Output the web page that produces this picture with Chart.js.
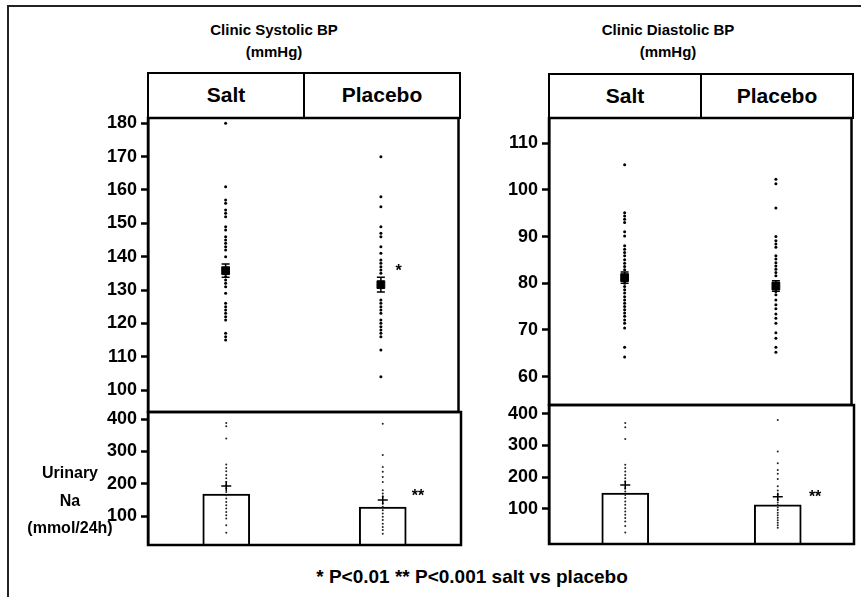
<!DOCTYPE html>
<html>
<head>
<meta charset="utf-8">
<title>Clinic BP and urinary sodium, salt vs placebo</title>
<script src="https://cdn.jsdelivr.net/npm/chart.js@4.4.1/dist/chart.umd.min.js"></script>
<style>
  body { margin: 0; background: #fff; font-family: Arial, 'Liberation Sans', sans-serif; font-weight: bold; color: #000; }
  #page { position: relative; width: 862px; height: 597px; overflow: hidden; }
  .abs { position: absolute; }
  .frame { left: 7px; top: 5px; width: 852px; height: 640px; border-left: 2px solid #222; border-top: 2px solid #222; }
  .title { font-size: 15px; text-align: center; line-height: 22px; width: 200px; }
  .hdr { box-sizing: border-box; border: 2.5px solid #000; display: flex; }
  .hdr div { flex: 1; text-align: center; font-size: 21px; line-height: 41px; }
  .hdr div:first-child { border-right: 2.5px solid #000; }
  .side { left: 20px; top: 459px; width: 100px; font-size: 16px; line-height: 27.5px; text-align: center; }
  .foot { left: 222px; top: 566px; width: 500px; font-size: 19px; line-height: 22px; text-align: center; }
  canvas { position: absolute; }
</style>
</head>
<body>
<div id="page">
  <div class="abs frame"></div>

  <div class="abs title" style="left:174px; top:19px;">Clinic Systolic BP<br>(mmHg)</div>
  <div class="abs title" style="left:568px; top:19px;">Clinic Diastolic BP<br>(mmHg)</div>

  <div class="abs hdr" style="left:147px; top:72px; width:314px; height:47px;"><div>Salt</div><div>Placebo</div></div>
  <div class="abs hdr" style="left:548px; top:73px; width:306px; height:46px;"><div>Salt</div><div>Placebo</div></div>

  <canvas id="sbp" width="377" height="318" style="left:88px; top:106px;"></canvas>
  <canvas id="naLeft" width="377" height="157" style="left:88px; top:400px;"></canvas>
  <canvas id="dbp" width="369" height="311" style="left:489px; top:106px;"></canvas>
  <canvas id="naRight" width="369" height="163" style="left:489px; top:393px;"></canvas>

  <div class="abs side">Urinary<br>Na<br>(mmol/24h)</div>
  <div class="abs foot">* P&lt;0.01 ** P&lt;0.001 salt vs placebo</div>
</div>

<script>
'use strict';
// values

const groups = ['Salt', 'Placebo'];
const xPos = [1, 3];

const sbpTicks = [100, 110, 120, 130, 140, 150, 160, 170, 180];
const dbpTicks = [60, 70, 80, 90, 100, 110];
const naTicks = [100, 200, 300, 400];

// clinic systolic BP, individual patients
const sbpSalt = [180, 161, 157, 156, 154, 153, 152, 149, 148, 146, 145, 144, 143, 142, 140, 134, 133, 132, 131, 129, 126, 125, 124, 123, 122, 121, 117, 116, 115];
const sbpPlacebo = [170, 158, 155, 149, 147, 146, 143, 141, 139, 138, 137, 136, 135, 127, 126, 125, 124, 123, 121, 120, 119, 118, 117, 116, 112, 104];
const sbpMean = [135.8, 131.6];
const sbpSem = [2.0, 2.2];

// clinic diastolic BP
const dbpSalt = [105.4, 95.1, 94.4, 93.7, 93, 91, 90.1, 88, 87.3, 86.6, 85.9, 85, 84.3, 83.6, 82.9, 80, 79.3, 78.6, 77.9, 77.1, 76.4, 75.7, 75, 74.3, 73.6, 72.9, 72.1, 71.4, 70.4, 66.3, 64.2];
const dbpPlacebo = [102.3, 101.3, 96.1, 90, 89.1, 88.4, 87.7, 85.9, 85.2, 84.4, 83.7, 83, 82.3, 81.6, 78.2, 77.5, 76.4, 75.4, 74.5, 73.4, 72.5, 71.4, 69.4, 68.2, 66.3, 65.2];
const dbpMean = [81.2, 79.4];
const dbpSem = [1.2, 1.1];

// urinary sodium under the systolic panel
const naSalt1 = [388, 378, 340, 260, 249, 239, 227, 217, 206, 196, 186, 175, 165, 155, 144, 134, 124, 113, 103, 93, 72, 49];
const naPlacebo1 = [386, 289, 252, 237, 221, 206, 180, 170, 160, 139, 129, 118, 108, 98, 88, 77, 67, 57, 46];
const naBar1 = [168, 128];
const naMean1 = [193, 150];
const naSem1 = [15, 14];

// urinary sodium under the diastolic panel
const naSalt2 = [371, 358, 321, 239, 229, 218, 207, 197, 186, 165, 155, 144, 134, 123, 113, 102, 92, 81, 71, 60, 46, 25];
const naPlacebo2 = [381, 281, 244, 223, 211, 194, 171, 158, 145, 128, 120, 112, 104, 96, 88, 80, 72, 64, 56, 48, 40];
const naBar2 = [150, 113];
const naMean2 = [175, 138];
const naSem2 = [14, 13];


function column(values, i) {
  return values.map(v => ({ x: xPos[i], y: v }));
}

function yAxis(min, max, ticks) {
  return {
    min: min,
    max: max,
    afterBuildTicks: s => { s.ticks = ticks.map(v => ({ value: v })); },
    afterFit: s => {
      // fixed axis width, and let the canvas padding decide the plot box
      s.width = 60;
      s.paddingTop = 0; s.paddingBottom = 0; s.paddingLeft = 0; s.paddingRight = 0;
    },
    ticks: { color: '#000', padding: 4, font: { family: 'Arial', size: 18, weight: 'bold' } },
    grid: { drawOnChartArea: false, tickLength: 7, tickWidth: 2.5, tickColor: '#000' },
    border: { color: '#000', width: 2.5 }
  };
}

const xAxis = { type: 'linear', min: 0, max: 4, offset: false, display: false };

// error bars, significance stars and the box around each plot
const panelExtras = {
  id: 'panelExtras',
  afterDatasetsDraw(chart, args, o) {
    const ctx = chart.ctx;
    const a = chart.chartArea;
    const x = chart.scales.x;
    const y = chart.scales.y;
    ctx.save();
    ctx.strokeStyle = '#000';
    ctx.lineWidth = 1.5;
    o.mean.forEach((m, i) => {
      const px = x.getPixelForValue(xPos[i]);
      const top = y.getPixelForValue(m + o.sem[i]);
      const bot = y.getPixelForValue(m - o.sem[i]);
      ctx.beginPath();
      ctx.moveTo(px, top); ctx.lineTo(px, bot);
      if (o.cap) {
        ctx.moveTo(px - o.cap, top); ctx.lineTo(px + o.cap, top);
        ctx.moveTo(px - o.cap, bot); ctx.lineTo(px + o.cap, bot);
      }
      if (o.cross) {
        const pm = y.getPixelForValue(m);
        ctx.moveTo(px - o.cross, pm); ctx.lineTo(px + o.cross, pm);
      }
      ctx.stroke();
    });
    if (o.star) {
      ctx.fillStyle = '#000';
      ctx.font = 'bold 16px Arial';
      ctx.textAlign = 'center';
      ctx.textBaseline = 'middle';
      ctx.fillText(o.star.text, x.getPixelForValue(o.star.x), y.getPixelForValue(o.star.y));
    }
    ctx.lineWidth = 2.5;
    ctx.strokeRect(a.left, a.top, a.right - a.left, a.bottom - a.top);
    ctx.restore();
  }
};

function baseOptions(yScale, pad, extras) {
  return {
    responsive: false,
    animation: false,
    events: [],
    layout: { padding: { top: pad, bottom: pad, left: 0, right: 4 } },
    plugins: { legend: { display: false }, tooltip: { enabled: false }, panelExtras: extras },
    scales: { x: xAxis, y: yScale }
  };
}

function bpChart(id, salt, placebo, mean, sem, min, max, ticks, star) {
  return new Chart(document.getElementById(id), {
    type: 'scatter',
    data: {
      datasets: [
        {
          label: 'mean',
          data: column([mean[0]], 0).concat(column([mean[1]], 1)),
          pointStyle: 'rect', pointRadius: 5.5, backgroundColor: '#000', borderColor: '#000', order: 0
        },
        {
          label: 'patients',
          data: column(salt, 0).concat(column(placebo, 1)),
          pointRadius: 1.5, backgroundColor: '#000', borderWidth: 0, order: 1
        }
      ]
    },
    options: baseOptions(yAxis(min, max, ticks), 12, { mean: mean, sem: sem, cap: 4, star: star }),
    plugins: [panelExtras]
  });
}

function naChart(id, salt, placebo, bars, mean, sem, min, max, star) {
  return new Chart(document.getElementById(id), {
    type: 'bar',
    data: {
      datasets: [
        {
          type: 'scatter',
          label: 'patients',
          data: column(salt, 0).concat(column(placebo, 1)),
          pointRadius: 1, backgroundColor: '#222', borderWidth: 0, order: 0
        },
        {
          type: 'bar',
          label: 'Urinary Na',
          data: column([bars[0]], 0).concat(column([bars[1]], 1)),
          base: min,
          barThickness: 47,
          backgroundColor: '#fff', borderColor: '#000', borderWidth: 2, order: 1
        }
      ]
    },
    options: baseOptions(yAxis(min, max, naTicks), 12, { mean: mean, sem: sem, cross: 5, star: star }),
    plugins: [panelExtras]
  });
}

bpChart('sbp', sbpSalt, sbpPlacebo, sbpMean, sbpSem, 93.4, 181.6, sbpTicks, { text: '*', x: 3.23, y: 135.5 });
bpChart('dbp', dbpSalt, dbpPlacebo, dbpMean, dbpSem, 53.9, 115.4, dbpTicks, null);
naChart('naLeft', naSalt1, naPlacebo1, naBar1, naMean1, naSem1, 11, 422, { text: '**', x: 3.45, y: 161 });
naChart('naRight', naSalt2, naPlacebo2, naBar2, naMean2, naSem2, -11, 428, { text: '**', x: 3.49, y: 136 });
</script>
</body>
</html>
